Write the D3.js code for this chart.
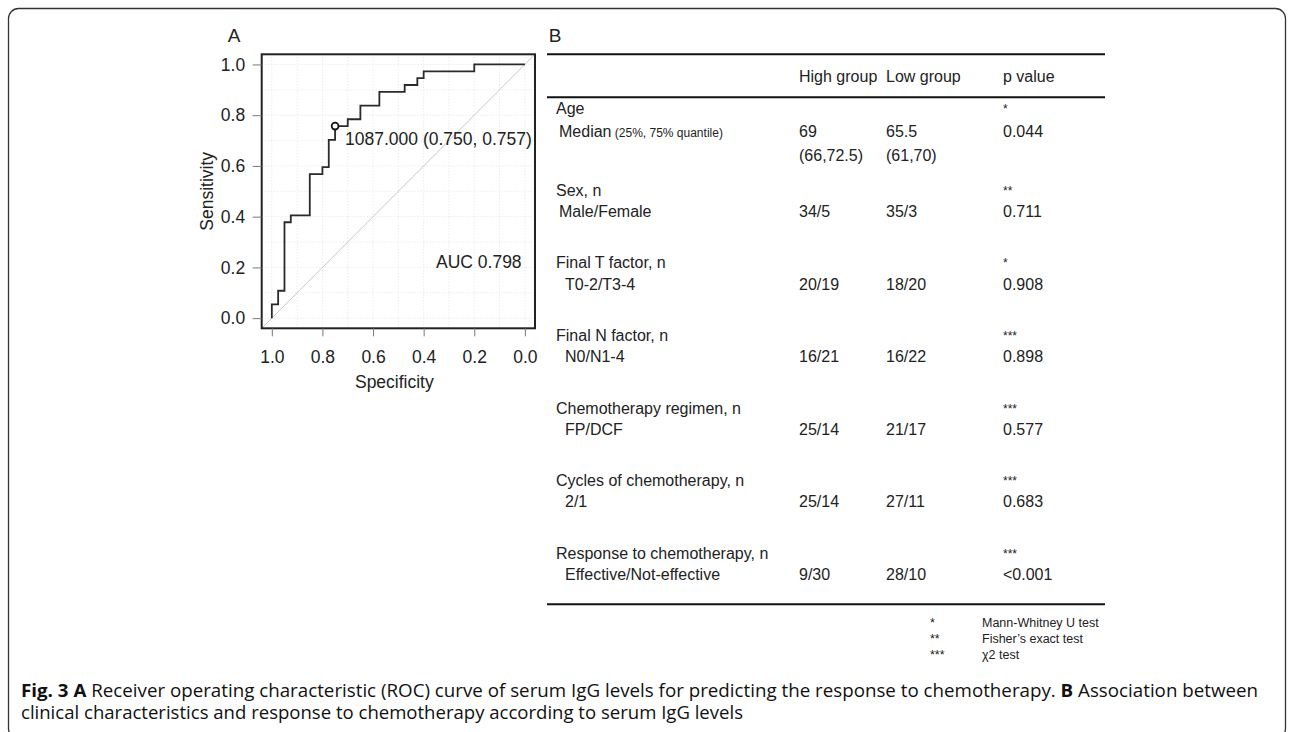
<!DOCTYPE html>
<html>
<head>
<meta charset="utf-8">
<title>Fig. 3 ROC curve and IgG table</title>
<script src="https://cdnjs.cloudflare.com/ajax/libs/d3/7.8.5/d3.min.js"></script>
<style>
body { margin: 0; background: #fff; }
svg { display: block; font-family: "Liberation Sans", Arial, sans-serif; fill: #222; }
.grid line { stroke: #e2e2e2; stroke-dasharray: 1,2; }
.axis path { display: none; }
.axis line { stroke: #777; }
.axis text { font-size: 17.5px; fill: #222; font-family: "Liberation Sans", Arial, sans-serif; }
.tbl { font-size: 16px; }
.caption { font-family: "Open Sans", sans-serif; font-size: 18px; fill: #111; }
</style>
</head>
<body>
<script>

// ---- panel A: ROC curve (corners of the steps)
var specificity = [1, 1, 0.975, 0.95, 0.925, 0.85, 0.8, 0.775, 0.75, 0.7, 0.65, 0.575, 0.475, 0.425, 0.4, 0.2, 0];
var sensitivity = [0, 0.054, 0.108, 0.378, 0.405, 0.568, 0.595, 0.703, 0.757, 0.784, 0.838, 0.892, 0.919, 0.946, 0.973, 1, 1];
var bestThreshold = "1087.000", bestSpec = 0.750, bestSens = 0.757;
var aucValue = "0.798";
var axisTicks = [0, 0.2, 0.4, 0.6, 0.8, 1.0];
var gridTicks = [0, 0.1, 0.2, 0.3, 0.4, 0.5, 0.6, 0.7, 0.8, 0.9, 1.0];

// ---- panel B: table
var headers = ["High group", "Low group", "p value"];
var rowLabels = ["Age", "Sex, n", "Final T factor, n", "Final N factor, n",
    "Chemotherapy regimen, n", "Cycles of chemotherapy, n", "Response to chemotherapy, n"];
var subLabels = ["Median", "Male/Female", "T0-2/T3-4", "N0/N1-4", "FP/DCF", "2/1", "Effective/Not-effective"];
var highGroup = ["69", "34/5", "20/19", "16/21", "25/14", "25/14", "9/30"];
var lowGroup = ["65.5", "35/3", "18/20", "16/22", "21/17", "27/11", "28/10"];
var pValues = ["0.044", "0.711", "0.908", "0.898", "0.577", "0.683", "<0.001"];
var testMarks = ["*", "**", "*", "***", "***", "***", "***"];
var ageQuantiles = ["(66,72.5)", "(61,70)"];
var footMarks = ["*", "**", "***"];
var footTests = ["Mann-Whitney U test", "Fisher\u2019s exact test", "\u03c72 test"];

var svg = d3.select("body").append("svg")
    .attr("width", 1292)
    .attr("height", 732);

// outer frame
svg.append("rect")
    .attr("x", 8.5).attr("y", 8.5)
    .attr("width", 1277).attr("height", 730)
    .attr("rx", 10)
    .attr("fill", "none")
    .attr("stroke", "#333")
    .attr("stroke-width", 1.3);

// ================= panel A =================
var box = {left: 261.7, right: 535, top: 54.3, bottom: 328.3};

var x = d3.scaleLinear().domain([1.04, -0.04]).range([box.left, box.right]);
var y = d3.scaleLinear().domain([-0.04, 1.04]).range([box.bottom, box.top]);

var grid = svg.append("g").attr("class", "grid");
grid.selectAll(".gv").data(gridTicks).enter().append("line")
    .attr("x1", function(d) { return x(d); })
    .attr("x2", function(d) { return x(d); })
    .attr("y1", box.top).attr("y2", box.bottom);
grid.selectAll(".gh").data(gridTicks).enter().append("line")
    .attr("y1", function(d) { return y(d); })
    .attr("y2", function(d) { return y(d); })
    .attr("x1", box.left).attr("x2", box.right);

// chance line
svg.append("line")
    .attr("x1", x(1.04)).attr("y1", y(-0.04))
    .attr("x2", x(-0.04)).attr("y2", y(1.04))
    .attr("stroke", "#c8c8c8")
    .attr("stroke-width", 1);

var rocData = specificity.map(function(s, i) { return {spec: s, sens: sensitivity[i]}; });

var rocLine = d3.line()
    .curve(d3.curveStepAfter)
    .x(function(d) { return x(d.spec); })
    .y(function(d) { return y(d.sens); });

svg.append("path")
    .attr("d", rocLine(rocData))
    .attr("fill", "none")
    .attr("stroke", "#2a2a2a")
    .attr("stroke-width", 1.8);

svg.append("rect")
    .attr("x", box.left).attr("y", box.top)
    .attr("width", box.right - box.left)
    .attr("height", box.bottom - box.top)
    .attr("fill", "none")
    .attr("stroke", "#222")
    .attr("stroke-width", 2);

svg.append("g")
    .attr("class", "axis")
    .attr("transform", "translate(0," + box.bottom + ")")
    .call(d3.axisBottom(x).tickValues(axisTicks).tickSize(8).tickPadding(14).tickFormat(d3.format(".1f")));

svg.append("g")
    .attr("class", "axis")
    .attr("transform", "translate(" + box.left + ",0)")
    .call(d3.axisLeft(y).tickValues(axisTicks).tickSize(9).tickPadding(7.5).tickFormat(d3.format(".1f")));

svg.append("text")
    .attr("x", (box.left + box.right) / 2 - 4)
    .attr("y", 388)
    .attr("text-anchor", "middle")
    .style("font-size", "17.5px")
    .text("Specificity");

svg.append("text")
    .attr("transform", "translate(213," + (box.top + box.bottom) / 2 + ") rotate(-90)")
    .attr("text-anchor", "middle")
    .style("font-size", "17.5px")
    .text("Sensitivity");

svg.append("text")
    .attr("x", 234).attr("y", 42)
    .attr("text-anchor", "middle")
    .style("font-size", "19px")
    .text("A");

// best threshold
svg.append("circle")
    .attr("cx", x(bestSpec)).attr("cy", y(bestSens))
    .attr("r", 3.4)
    .attr("fill", "#fff")
    .attr("stroke", "#111")
    .attr("stroke-width", 1.8);

svg.append("text")
    .attr("x", x(bestSpec) + 10)
    .attr("y", y(bestSens) + 18.5)
    .style("font-size", "17.5px")
    .text(bestThreshold + " (" + bestSpec.toFixed(3) + ", " + bestSens.toFixed(3) + ")");

svg.append("text")
    .attr("x", 436).attr("y", 268)
    .style("font-size", "17.5px")
    .text("AUC " + aucValue);

// ================= panel B =================
var tableLeft = 547, tableRight = 1105;
var colX = {label: 556, high: 799, low: 886, p: 1003};

svg.append("text")
    .attr("x", 555).attr("y", 42)
    .attr("text-anchor", "middle")
    .style("font-size", "19px")
    .text("B");

[54.3, 97.3, 604.3].forEach(function(ry) {
    svg.append("line")
        .attr("x1", tableLeft).attr("x2", tableRight)
        .attr("y1", ry).attr("y2", ry)
        .attr("stroke", "#111")
        .attr("stroke-width", 2);
});

var tbl = svg.append("g").attr("class", "tbl");

tbl.selectAll(".hdr").data(headers).enter().append("text")
    .attr("x", function(d, i) { return [colX.high, colX.low, colX.p][i]; })
    .attr("y", 82.4)
    .text(function(d) { return d; });

// row positions: Age block is taller, the rest are evenly spaced
var rowY = d3.scaleLinear().domain([1, 6]).range([190, 553]);
function groupY(i) { return i === 0 ? 108.3 : rowY(i); }
function subGap(i) { return i === 0 ? 23.3 : 21.3; }
var baseShift = 5.7;

var rows = tbl.selectAll(".row").data(rowLabels).enter().append("g")
    .attr("transform", function(d, i) { return "translate(0," + groupY(i) + ")"; });

rows.append("text")
    .attr("x", colX.label)
    .attr("y", baseShift)
    .text(function(d) { return d; });

var sub = rows.append("text")
    .attr("x", function(d, i) { return colX.label + (i < 2 ? 3 : 9); })
    .attr("y", function(d, i) { return subGap(i) + baseShift; });
sub.append("tspan").text(function(d, i) { return subLabels[i]; });
sub.filter(function(d, i) { return i === 0; })
    .append("tspan")
    .style("font-size", "12px")
    .text(" (25%, 75% quantile)");

rows.append("text")
    .attr("x", colX.high).attr("y", function(d, i) { return subGap(i) + baseShift; })
    .text(function(d, i) { return highGroup[i]; });
rows.append("text")
    .attr("x", colX.low).attr("y", function(d, i) { return subGap(i) + baseShift; })
    .text(function(d, i) { return lowGroup[i]; });
rows.append("text")
    .attr("x", colX.p).attr("y", function(d, i) { return subGap(i) + baseShift; })
    .text(function(d, i) { return pValues[i]; });
rows.append("text")
    .attr("x", colX.p).attr("y", baseShift - 1)
    .style("font-size", "12px")
    .text(function(d, i) { return testMarks[i]; });

// Age quantiles on a third line
rows.filter(function(d, i) { return i === 0; }).each(function() {
    var g = d3.select(this);
    g.append("text").attr("x", colX.high).attr("y", 2 * subGap(0) + baseShift).text(ageQuantiles[0]);
    g.append("text").attr("x", colX.low).attr("y", 2 * subGap(0) + baseShift).text(ageQuantiles[1]);
});

// footnotes
var foot = svg.append("g").style("font-size", "12.5px");
foot.selectAll(".fm").data(footMarks).enter().append("text")
    .attr("x", 930)
    .attr("y", function(d, i) { return 626.7 + i * 16; })
    .text(function(d) { return d; });
foot.selectAll(".ft").data(footTests).enter().append("text")
    .attr("x", 982)
    .attr("y", function(d, i) { return 626.7 + i * 16; })
    .text(function(d) { return d; });

// ================= caption =================
var captionLines = [
    [["Fig. 3 A", true], [" Receiver operating characteristic (ROC) curve of serum IgG levels for predicting the response to chemotherapy. ", false],
     ["B", true], [" Association between", false]],
    [["clinical characteristics and response to chemotherapy according to serum IgG levels", false]]
];
var captionWidths = [1237, 722];
var captionBase = [697, 719];

captionLines.forEach(function(parts, li) {
    var t = svg.append("text")
        .attr("class", "caption")
        .attr("x", 21)
        .attr("y", captionBase[li]);
    parts.forEach(function(p) {
        t.append("tspan")
            .style("font-weight", p[1] ? "bold" : "normal")
            .text(p[0]);
    });
    t.attr("textLength", captionWidths[li])
        .attr("lengthAdjust", "spacingAndGlyphs");
});

</script>
</body>
</html>
